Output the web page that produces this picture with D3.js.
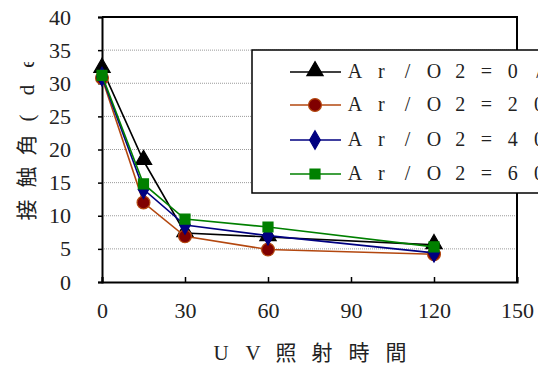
<!DOCTYPE html>
<html><head><meta charset="utf-8">
<script src="https://cdn.jsdelivr.net/npm/d3@7"></script>
<style>html,body{margin:0;padding:0;background:#fff;overflow:hidden}</style>
</head><body>
<svg id="c" width="538" height="365"></svg>
<script>
const uvTimes = [0, 15, 30, 60, 120];
const seriesNames = ["Ａｒ／Ｏ２＝０／１００", "Ａｒ／Ｏ２＝２０／８０", "Ａｒ／Ｏ２＝４０／６０", "Ａｒ／Ｏ２＝６０／４０"];
const ar0 = [32.2, 18.3, 7.4, 6.8, 5.6];
const ar20 = [30.8, 12.0, 6.9, 4.9, 4.2];
const ar40 = [31.0, 14.0, 8.6, 7.0, 4.4];
const ar60 = [31.2, 14.8, 9.5, 8.3, 5.3];
const yTicks = [0, 5, 10, 15, 20, 25, 30, 35, 40];
const xTicks = [0, 30, 60, 90, 120, 150];
const xTitle = "ＵＶ照射時間";
const yTitle = "接触角（ｄｅｇ）";

const seriesValues = [ar0, ar20, ar40, ar60];
const styles = [
  {line:"#000000", fill:"#000000", stroke:"#000000", sym:"tri"},
  {line:"#b3470f", fill:"#800000", stroke:"#b3470f", sym:"circle"},
  {line:"#000080", fill:"#000080", stroke:"#000080", sym:"diamond"},
  {line:"#008000", fill:"#008000", stroke:"#008000", sym:"square"}
];
const serif = "'Liberation Serif','Noto Sans CJK JP',serif";

const svg = d3.select("#c");
const x = d3.scaleLinear().domain([0,150]).range([102,517]);
const y = d3.scaleLinear().domain([0,40]).range([282,17]);

// gridlines
svg.append("g").selectAll("line").data(yTicks.filter(d=>d>0 && d<40)).join("line")
  .attr("x1", x(0)).attr("x2", x(150)).attr("y1", d=>y(d)).attr("y2", d=>y(d))
  .attr("stroke","#9a9a9a").attr("stroke-width",1).attr("stroke-dasharray","1,1");

// frame
svg.append("path").attr("d",`M${x(0)},${y(40)}H${x(150)}V${y(0)}`)
  .attr("fill","none").attr("stroke","#000").attr("stroke-width",2);

// y axis
const yAxis = svg.append("g").attr("transform",`translate(${x(0)},0)`)
  .call(d3.axisLeft(y).tickValues(yTicks).tickSize(4).tickPadding(27).tickFormat(d3.format("d")));
yAxis.select(".domain").attr("stroke-width",2);
yAxis.selectAll(".tick line").attr("stroke-width",1.5);
yAxis.selectAll("text").attr("font-family",serif).attr("font-size",22).attr("fill","#222");

// x axis (ticks inside)
const xAxis = svg.append("g").attr("transform",`translate(0,${y(0)})`)
  .call(d3.axisBottom(x).tickValues(xTicks).tickSize(-5).tickPadding(20).tickFormat(d3.format("d")));
xAxis.select(".domain").attr("stroke-width",2);
xAxis.selectAll(".tick line").attr("stroke-width",1.5);
xAxis.selectAll("text").attr("font-family",serif).attr("font-size",22).attr("fill","#222");

function symPath(sym){
  const map = {tri:d3.symbolTriangle, circle:d3.symbolCircle, diamond:d3.symbolDiamond, square:d3.symbolSquare};
  const size = {tri:115, circle:130, diamond:100, square:100}[sym];
  return d3.symbol().type(map[sym]).size(size)();
}

const line = d3.line().x((d,i)=>x(uvTimes[i])).y(d=>y(d));
seriesValues.forEach((vals,k)=>{
  const st = styles[k];
  const g = svg.append("g");
  g.append("path").attr("d", line(vals)).attr("fill","none").attr("stroke",st.line).attr("stroke-width",1.6);
  g.selectAll("path.m").data(vals).join("path").attr("class","m")
    .attr("transform",(d,i)=>`translate(${x(uvTimes[i])},${y(d)+(st.sym==="tri"?-1:0)})`)
    .attr("d", symPath(st.sym)).attr("fill",st.fill).attr("stroke",st.stroke).attr("stroke-width",1.2);
});

// legend (extends past the right edge, as in the reference)
const lg = svg.append("g");
lg.append("rect").attr("x",252).attr("y",50).attr("width",300).attr("height",143)
  .attr("fill","#fff").attr("stroke","#000").attr("stroke-width",1.5);
const rowY = [72, 105, 140, 174];
seriesNames.forEach((name,k)=>{
  const st = styles[k];
  const cy = rowY[k];
  lg.append("line").attr("x1",290).attr("x2",341).attr("y1",cy).attr("y2",cy)
    .attr("stroke",st.line).attr("stroke-width",1.6);
  lg.append("path").attr("transform",`translate(315,${cy+(st.sym==="tri"?-1:0)})`).attr("d",symPath(st.sym))
    .attr("fill",st.fill).attr("stroke",st.stroke).attr("stroke-width",1.2);
  const chars = Array.from(name);
  lg.append("text").attr("x", chars.map((c,i)=>355+i*26.3).join(" ")).attr("y", cy+6)
    .attr("text-anchor","middle").attr("font-family",serif).attr("font-size",20).attr("fill","#222")
    .text(chars.map(c=>String.fromCharCode(c.charCodeAt(0)-0xFEE0)).join(""));
});

// x title
const xt = Array.from(xTitle);
const xPos = [221, 253, 286, 322, 359, 396];
svg.append("text").attr("x", xPos.slice(0,xt.length).join(" ")).attr("y",360)
  .attr("text-anchor","middle").attr("font-family",serif).attr("font-size",21).attr("fill","#222")
  .text(xt.map(c=>c.charCodeAt(0)>=0xFF21&&c.charCodeAt(0)<=0xFF5A?String.fromCharCode(c.charCodeAt(0)-0xFEE0):c).join(""));

// y title (clipped at top, as in the reference)
svg.append("defs").append("clipPath").attr("id","yclip").append("rect")
  .attr("x",0).attr("y",62).attr("width",50).attr("height",250);
const yt = Array.from(yTitle).map(c=>{const n=c.charCodeAt(0);return (n>=0xFF41&&n<=0xFF5A)||n===0xFF08||n===0xFF09?String.fromCharCode(n-0xFEE0):c;});
const yPos = [210, 177, 145, 118, 90, 63, 36, 9];
svg.append("g").attr("clip-path","url(#yclip)").append("text")
  .attr("transform","translate(34,0) rotate(-90)")
  .attr("x", yPos.map(v=>-v).join(" ")).attr("y",0)
  .attr("text-anchor","middle").attr("font-family",serif).attr("font-size",21).attr("fill","#222")
  .text(yt.join(""));
</script>
</body></html>
